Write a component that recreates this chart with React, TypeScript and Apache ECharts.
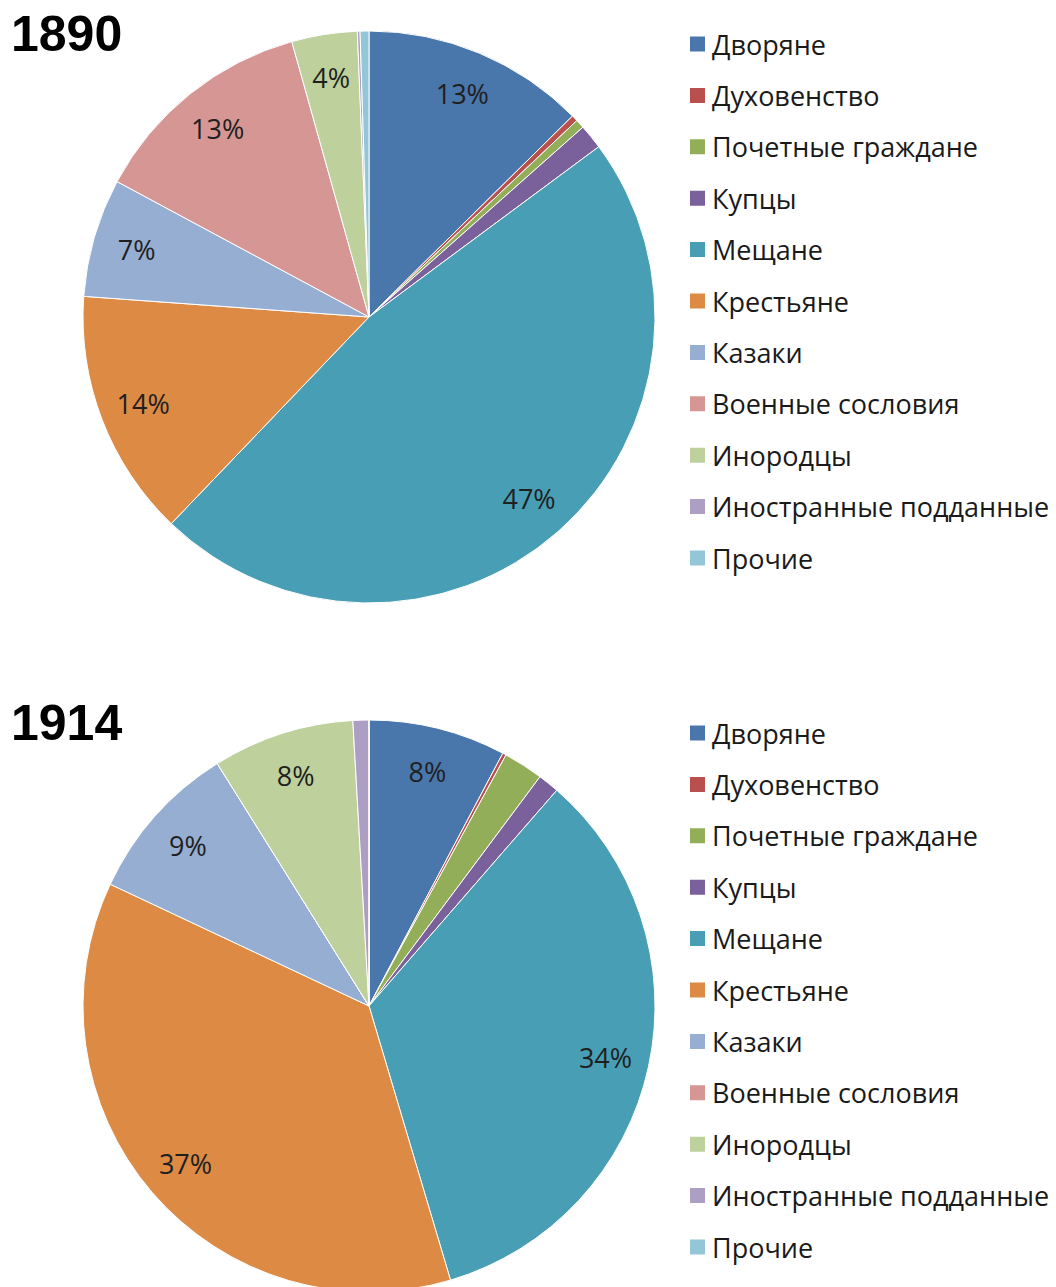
import React, { useEffect, useRef } from "react";
import * as echarts from "echarts";

const categories = [
  "Дворяне",
  "Духовенство",
  "Почетные граждане",
  "Купцы",
  "Мещане",
  "Крестьяне",
  "Казаки",
  "Военные сословия",
  "Инородцы",
  "Иностранные подданные",
  "Прочие",
];

const colors = [
  "#4A77AB",
  "#B9504D",
  "#92AE58",
  "#7B619B",
  "#489FB5",
  "#DD8A45",
  "#97AED3",
  "#D69694",
  "#BED09C",
  "#AD9EC3",
  "#93C7D8",
];

const years = ["1890", "1914"];
const values1890 = [12.6, 0.35, 0.5, 1.4, 47.3, 14.0, 6.7, 12.8, 3.7, 0.15, 0.5];
const values1914 = [7.75, 0.2, 2.25, 1.2, 34.0, 36.6, 9.1, 0, 8.0, 0.9, 0];

const FONT = "'Open Sans', 'Liberation Sans', sans-serif";
const R = 286;
const CX = 369;
const CYS = [317, 1006];

export default function App() {
  const ref = useRef<HTMLDivElement>(null);
  useEffect(() => {
    document.body.style.margin = "0";
    const chart = echarts.init(ref.current!, undefined, { renderer: "svg" });
    const all = [values1890, values1914];
    const series: any[] = [];
    all.forEach((vals, i) => {
      series.push({
        type: "pie",
        name: years[i],
        center: [CX, CYS[i]],
        radius: [0, R],
        startAngle: 90,
        clockwise: true,
        silent: true,
        label: { show: false },
        labelLine: { show: false },
        itemStyle: { borderColor: "#ffffff", borderWidth: 1 },
        data: categories.map((c, k) => ({
          name: c,
          value: vals[k],
          itemStyle: { color: colors[k] },
        })),
      });
    });
    all.forEach((vals, i) => {
      const total = vals.reduce((a, b) => a + b, 0);
      series.push({
        type: "pie",
        name: years[i] + "-labels",
        center: [CX, CYS[i]],
        radius: [192, R],
        startAngle: 90,
        clockwise: true,
        silent: true,
        legendHoverLink: false,
        labelLine: { show: false },
        label: {
          show: true,
          position: "inside",
          fontFamily: FONT,
          fontSize: 27,
          color: "#1f1f1f",
          formatter: (p: any) => {
            const pct = (p.value / total) * 100;
            return pct >= 3 ? Math.round(pct) + "%" : "";
          },
        },
        itemStyle: { color: "rgba(0,0,0,0)", borderWidth: 0 },
        data: categories.map((c, k) => ({ name: c, value: vals[k] })),
      });
    });

    const legends = CYS.map((cy) => ({
      orient: "vertical",
      left: 688,
      top: 29 + (cy - CYS[0]),
      padding: 0,
      itemWidth: 17,
      itemHeight: 17,
      itemGap: 21.4,
      icon: "rect",
      selectedMode: false,
      textStyle: {
        fontFamily: FONT,
        fontSize: 27,
        lineHeight: 30,
        color: "#1a1a1a",
        padding: [0, 0, 0, 1],
      },
      data: categories.map((c, k) => ({
        name: c,
        itemStyle: { color: colors[k] },
      })),
    }));

    chart.setOption({
      animation: false,
      backgroundColor: "#ffffff",
      title: years.map((y, i) => ({
        text: y,
        left: 11,
        top: 9 + (CYS[i] - CYS[0]),
        padding: 0,
        textStyle: {
          fontFamily: "'Liberation Sans', Arial, sans-serif",
          fontWeight: "bold",
          fontSize: 50,
          color: "#000000",
        },
      })),
      legend: legends,
      series,
    });
    return () => chart.dispose();
  }, []);
  return <div ref={ref} style={{ width: 1056, height: 1287 }} />;
}
